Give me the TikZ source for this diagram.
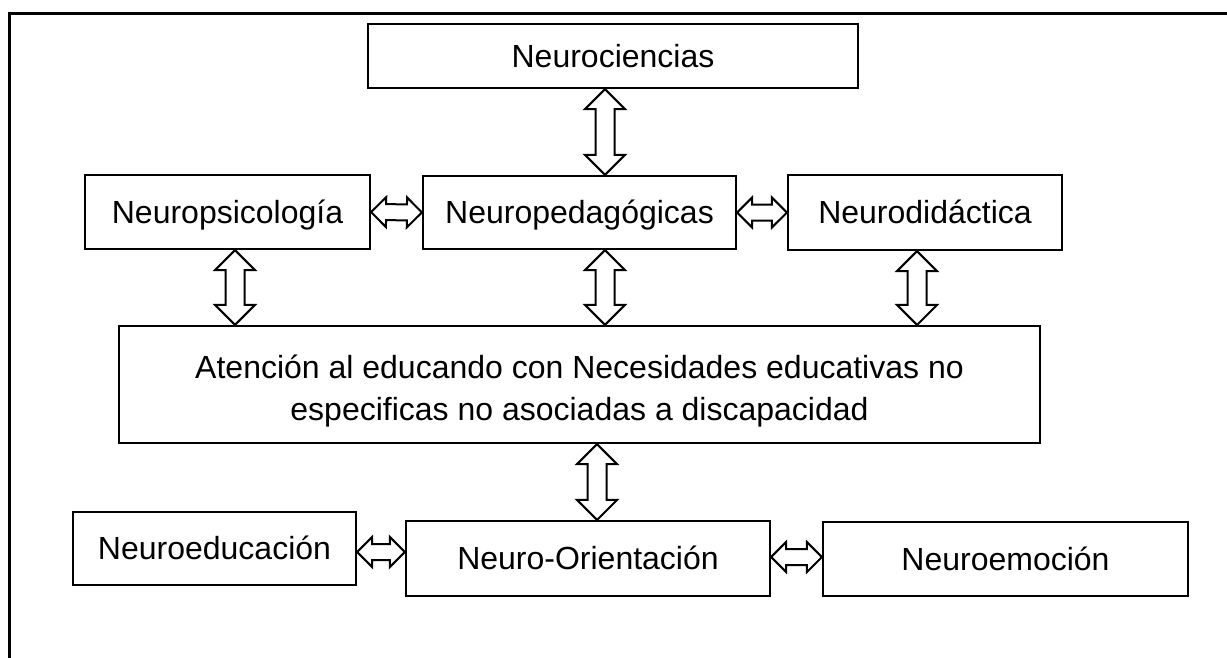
\documentclass[tikz,border=0pt]{standalone}
\usepackage{fontspec}
\setmainfont{Liberation Sans}
\usetikzlibrary{shapes.arrows,calc}
\newcommand\dlink[4][]{%
  \path let \p1=(#3), \p2=(#4), \n1={veclen(\x2-\x1,\y2-\y1)}, \n2={atan2(\y2-\y1,\x2-\x1)} in
    node[dblarrow,minimum height=\n1,rotate=\n2,#1] (#2) at ($(#3)!.5!(#4)$) {};}
\begin{document}
\begin{tikzpicture}[x=1pt,y=-1pt,
  box/.style={draw,line width=2.2pt,inner sep=0pt,font=\fontsize{32}{42}\selectfont},
  one/.style={box,text height=22pt,text depth=0pt},
  dblarrow/.style={draw,line width=2pt,double arrow,double arrow tip angle=90,
    inner sep=8.5pt,double arrow head extend=10.5pt},
  thin/.style={inner sep=7pt,double arrow head extend=7pt}]
  \useasboundingbox (0,0) rectangle (1227,657);
  \begin{scope}
    \clip (0,0) rectangle (1227,657);
    \draw[line width=3pt] (9,13) rectangle (1260,700);
  \end{scope}
  \node[one,minimum width=490,minimum height=64] (cien) at (613,56) {Neurociencias};
  \node[one,minimum width=285,minimum height=74] (psico) at (227.5,212) {Neuropsicología};
  \node[one,minimum width=313,minimum height=73] (peda) at (579.5,212.5) {Neuropedagógicas};
  \node[one,minimum width=274,minimum height=75] (dida) at (925,212.5) {Neurodidáctica};
  \node[box,minimum width=921,minimum height=117,align=center] (aten) at (579.5,384.5)
    {\rule{0pt}{36pt}Atención al educando con Necesidades educativas no\\especificas no asociadas a discapacidad};
  \node[one,minimum width=283,minimum height=73] (edu) at (214.5,548.5) {Neuroeducación};
  \node[one,minimum width=364,minimum height=75] (orient) at (588,558.5) {Neuro-Orientación};
  \node[one,minimum width=365,minimum height=74] (emo) at (1005.5,559) {Neuroemoción};

  \dlink{a1}{605,0 |- cien.south}{605,0 |- peda.north}
  \dlink[thin]{a2}{psico.east}{peda.west}
  \dlink[thin]{a3}{peda.east}{dida.west}
  \dlink{a4}{235,0 |- psico.south}{235,0 |- aten.north}
  \dlink{a5}{605,0 |- peda.south}{605,0 |- aten.north}
  \dlink{a6}{917,0 |- dida.south}{917,0 |- aten.north}
  \dlink{a7}{597,0 |- aten.south}{597,0 |- orient.north}
  \dlink[thin]{a8}{edu.east |- 0,552}{orient.west |- 0,552}
  \dlink[thin]{a9}{orient.east |- 0,557}{emo.west |- 0,557}
\end{tikzpicture}
\end{document}
